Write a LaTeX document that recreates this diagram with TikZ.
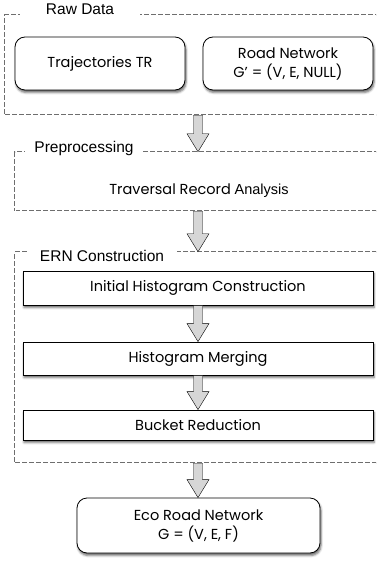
\documentclass[tikz,border=0pt]{standalone}
\usepackage{fontspec}
\setmainfont{Poppins}
\newfontfamily\labelfont{Liberation Sans}
\usetikzlibrary{shadows.blur, calc}

\definecolor{arrowgray}{HTML}{D6D6D6}
\definecolor{framegray}{HTML}{6E6E6E}

% block arrow between two anchors
\newcommand{\flowarrow}[2]{%
  \draw[fill=arrowgray] let \p1=(#1), \p2=(#2) in
    ({\x1-4.5pt},\y1) -- ({\x1+4.5pt},\y1) -- ({\x1+4.5pt},{\y2+18pt})
    -- ({\x1+11pt},{\y2+18pt}) -- (\x1,\y2) -- ({\x1-11pt},{\y2+18pt})
    -- ({\x1-4.5pt},{\y2+18pt}) -- cycle;}

\begin{document}
\begin{tikzpicture}[x=1pt, y=-1pt,
    roundbox/.style={draw, thick, rounded corners=10pt, fill=white, align=center,
        blur shadow={shadow xshift=1pt, shadow yshift=-2.5pt, shadow opacity=60},
        font=\fontsize{14.5}{19}\selectfont},
    stepbox/.style={draw, thick, fill=white, minimum width=350pt,
        blur shadow={shadow xshift=1pt, shadow yshift=-2.5pt, shadow opacity=60},
        font=\fontsize{14.5}{19}\selectfont},
    groupbox/.style={draw=framegray, line width=0.5pt, double=white, double distance=0.9pt,
        dash pattern=on 5pt off 2pt},
    grouplabel/.style={fill=white, font=\labelfont\fontsize{15.5}{17}\selectfont}]
    \clip (0,0) rectangle (376,561);

    % groups
    \node[groupbox, minimum width=386pt, minimum height=100pt] (raw) at (198,65) {};
    \node[groupbox, minimum width=366pt, minimum height=59pt] (pre) at (198,181.5) {};
    \node[groupbox, minimum width=366pt, minimum height=211pt] (ern) at (198,357.5) {};

    \node[grouplabel, minimum width=120pt] (rawlabel) at (80,9) {Raw Data};
    \node[grouplabel, minimum width=118pt] (prelabel) at (84,148) {Preprocessing};
    \node[grouplabel, minimum width=150pt, minimum height=26pt] (ernlabel) at (102,256) {ERN Construction};

    % inputs
    \node[roundbox, minimum width=170pt, minimum height=53pt] (traj) at (100,63.5) {Trajectories TR};
    \node[roundbox, minimum width=170pt, minimum height=53pt] (road) at (288,63.5) {Road Network\\G{\char"0027} = (V, E, NULL)};

    \node[font=\fontsize{14.5}{19}\selectfont] (trav) at (199,191) {Traversal Record {\labelfont Analysis}};

    % steps
    \node[stepbox, minimum height=34pt] (initial) at (198,288) {Initial Histogram Construction};
    \node[stepbox, minimum height=33pt] (merging) at (198,358.5) {Histogram Merging};
    \node[stepbox, minimum height=30pt] (bucket) at (198,425) {Bucket Reduction};

    % output
    \node[roundbox, minimum width=243pt, minimum height=55pt] (eco) at (198.5,525.5) {Eco Road Network\\G = (V, E, F)};

    \flowarrow{raw.south}{pre.north}
    \flowarrow{pre.south}{ern.north}
    \flowarrow{initial.south}{merging.north}
    \flowarrow{merging.south}{bucket.north}
    \flowarrow{ern.south}{eco.north}
\end{tikzpicture}
\end{document}
